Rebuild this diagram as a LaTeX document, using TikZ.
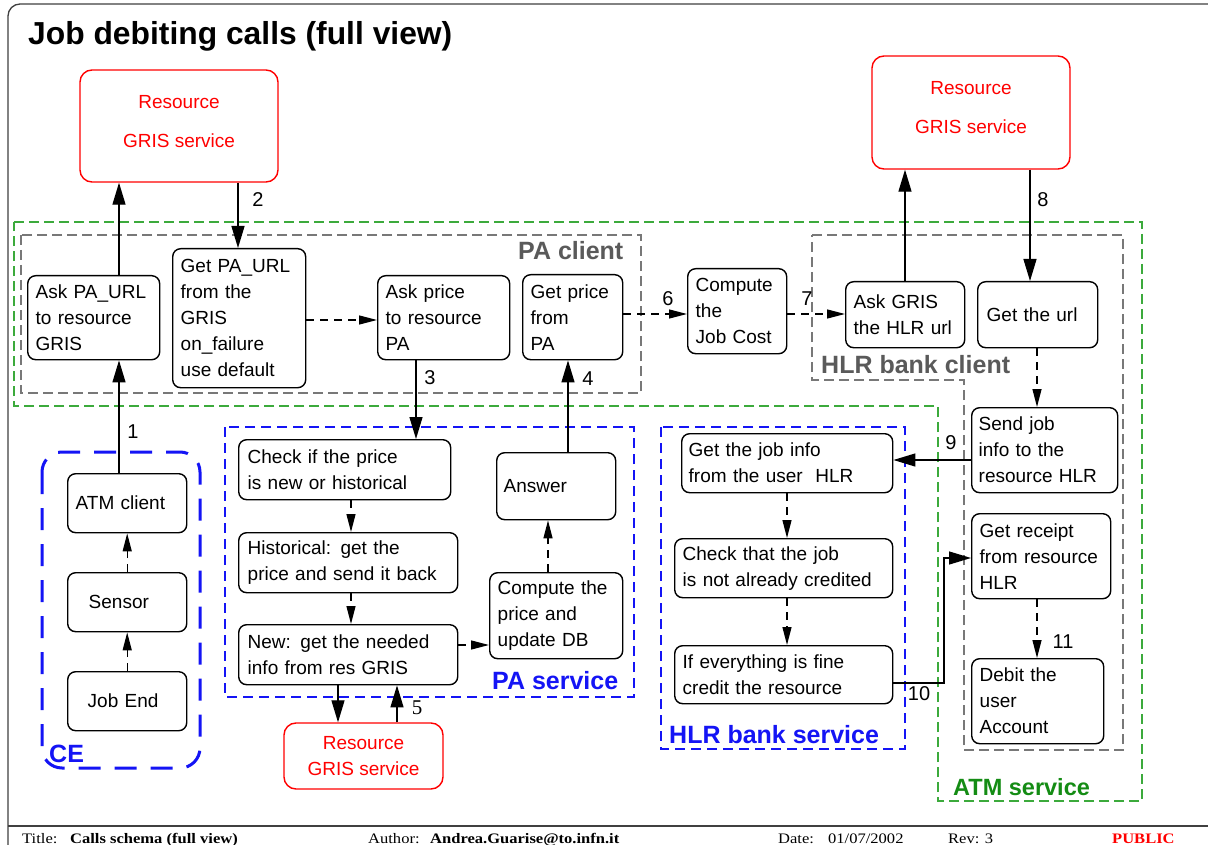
\documentclass[tikz,border=0pt]{standalone}
\usepackage{fontspec}
\setmainfont{Liberation Sans}
\newfontfamily\footfont[FakeStretch=1.14]{Liberation Serif}
\newfontfamily\numserif{Liberation Serif}
\usetikzlibrary{arrows.meta}

\definecolor{atmgreen}{RGB}{60,170,60}
\definecolor{atmlabel}{RGB}{20,140,20}
\definecolor{clientgray}{RGB}{120,120,120}
\definecolor{clientlabel}{RGB}{90,90,90}
\definecolor{svcblue}{RGB}{20,20,245}

\newcommand\bxfont{\fontsize{19}{26}\selectfont}
\newcommand\lblfont{\fontsize{25}{28}\selectfont\bfseries}
\newcommand\ftsize{\fontsize{14.5}{16}\selectfont}
\hyphenpenalty=10000
\exhyphenpenalty=10000

% rounded box given by its corners: [left inset]{name}{x1}{y1}{x2}{y2}{text}
\newcommand\bx[7][8]{%
  \pgfmathsetmacro\bxW{#5-#3}%
  \pgfmathsetmacro\bxH{#6-#4}%
  \pgfmathsetmacro\bxT{#5-#3-2*#1}%
  \node[box, anchor=north west, minimum width=\bxW pt, minimum height=\bxH pt,
        text width=\bxT pt, inner xsep=#1pt] (#2) at (#3,#4) {#7};}

\begin{document}
\begin{tikzpicture}[x=1pt,y=-1pt,
  box/.style={draw, line width=1.4pt, rounded corners=8pt, fill=white,
              font=\bxfont, align=left, inner ysep=0pt},
  redbox/.style={draw=red, line width=1.4pt, rounded corners=12pt, fill=white,
              text=red, font=\bxfont, align=center, inner sep=0pt},
  sarrow/.style={line width=1.3pt, -{Triangle[length=22pt,width=13pt]}},
  darrow/.style={line width=1.3pt, dash pattern=on 8pt off 6pt,
              -{Triangle[length=18pt,width=9pt]}},
  num/.style={font=\fontsize{20}{22}\selectfont, inner sep=0pt},
  atmzone/.style={draw=atmgreen, line width=1.3pt, dash pattern=on 10pt off 5pt},
  clientzone/.style={draw=clientgray, line width=1.3pt, dash pattern=on 10pt off 5pt},
  svczone/.style={draw=svcblue, line width=1.3pt, dash pattern=on 10pt off 6pt},
  zonelabel/.style={font=\lblfont, anchor=base west, inner sep=0pt},
  foot/.style={font=\footfont\ftsize, anchor=base west, inner sep=0pt},
  footbold/.style={foot, font=\footfont\ftsize\bfseries}
]
\useasboundingbox (0,0) rectangle (1208,845);
\fill[white] (0,0) rectangle (1208,845);

% sheet frame and footer rule
\draw[line width=1.3pt, black!75, rounded corners=12pt] (1208,4) -- (8,4) -- (8,845);
\draw[line width=1.3pt, black!75] (8,826) -- (1208,826);

\node[font=\fontsize{31.8}{34}\selectfont\bfseries, anchor=base west, inner sep=0pt]
  (title) at (28,45) {Job debiting calls (full view)};

% ---- zones ----
\draw[atmzone] (14,222) -- (1142,222) -- (1142,801) -- (938,801) -- (938,406) -- (14,406) -- cycle;
\draw[clientzone] (21,235) rectangle (641,393);
\draw[clientzone] (812,235) -- (1123,235) -- (1123,750) -- (964,750) -- (964,380) -- (812,380) -- cycle;
\draw[svczone] (225,427) rectangle (634,697);
\draw[svczone] (661,427) rectangle (905,749);
\draw[draw=svcblue, line width=3pt, dash pattern=on 22pt off 14pt, rounded corners=20pt]
  (42,452) rectangle (200,768);

\node[zonelabel, text=clientlabel] (lpacl) at (518,260) {PA client};
\node[zonelabel, text=clientlabel] (lhlrcl) at (821,373) {HLR bank client};
\node[zonelabel, text=svcblue] (lpasv) at (492,689) {PA service};
\node[zonelabel, text=svcblue] (lhlrsv) at (669,743) {HLR bank service};
\node[zonelabel, text=atmlabel, font=\fontsize{23.5}{26}\selectfont\bfseries] (latm) at (953,795) {ATM service};
\node[zonelabel, text=svcblue] (lce) at (49,762) {CE};

% ---- GRIS services ----
\node[redbox, minimum width=198pt, minimum height=112pt] (red1) at (179,126)
  {Resource\\[13pt]GRIS service\\[-16pt]\mbox{}};
\node[redbox, minimum width=198pt, minimum height=113pt] (red2) at (971,112.5)
  {Resource\\[13pt]GRIS service\\[-16pt]\mbox{}};
\node[redbox, minimum width=159pt, minimum height=66pt] (red3) at (363.5,756)
  {Resource\\GRIS service};

% ---- boxes ----
\bx{askURL}{27}{275}{159}{359}{Ask PA\_URL\\to resource\\GRIS}
\bx{getURL}{172}{248}{305}{387}{Get PA\_URL\\from the\\GRIS\\on\_failure\\use default}
\bx{askPrice}{377}{275}{509}{359}{Ask price\\to resource\\PA}
\bx{getPrice}{522}{274}{622}{359}{Get price\\from\\PA}
\bx{compute}{687}{268}{786}{353}{Compute\\the\\Job Cost}
\bx{askGRIS}{845}{281}{964}{347}{Ask GRIS\\the HLR url}
\bx[9]{getUrl}{977}{281}{1097}{347}{Get the url}
\bx[7]{sendJob}{971}{407}{1117}{492}{Send job\\info to the\\resource HLR}
\bx{getReceipt}{971}{513}{1110}{598}{Get receipt\\from resource\\HLR}
\bx{debit}{971}{658}{1103}{743}{Debit the\\user\\Account}
\bx{atm}{67}{473}{186}{532}{ATM client}
\bx[21]{sensor}{67}{572}{186}{631}{Sensor}
\bx[20]{jobEnd}{67}{671}{186}{730}{Job End}
\bx[9]{check}{238}{439}{450}{499}{Check if the price\\is new or historical}
\bx[9]{hist}{238}{532}{457}{592}{Historical: get the\\price and send it back}
\bx[9]{newInfo}{238}{624}{457}{684}{New: get the needed\\info from res GRIS}
\bx[7]{answer}{496}{452}{615}{519}{Answer}
\bx{computePrice}{489}{572}{622}{658}{Compute the\\price and\\update DB}
\bx[7]{getJob}{681}{433}{892}{492}{Get the job info\\from the user\ \ HLR}
\bx{checkJob}{674}{538}{892}{597}{Check that the job\\is not already credited}
\bx{ifFine}{674}{645}{892}{703}{If everything is fine\\credit the resource}

% ---- connector guides ----
\coordinate (cx119) at (119,0);
\coordinate (cx238) at (238,0);
\coordinate (cx338) at (338,0);
\coordinate (cx351) at (351,0);
\coordinate (cx397) at (397,0);
\coordinate (cx416) at (416,0);
\coordinate (cx548) at (548,0);
\coordinate (cx568) at (568,0);
\coordinate (cx787) at (787,0);
\coordinate (cx905) at (905,0);
\coordinate (cx1030) at (1030,0);
\coordinate (cx1037) at (1037,0);
\coordinate (cy314) at (0,314);
\coordinate (cy320) at (0,320);
\coordinate (cy460) at (0,460);
\coordinate (cy645) at (0,645);
\coordinate (c10a) at (944,683);
\coordinate (c10b) at (944,558);

% ---- connectors ----
\draw[sarrow] (atm.north -| cx119) -- (askURL.south -| cx119);
\draw[sarrow] (askURL.north -| cx119) -- (red1.south -| cx119);
\draw[sarrow] (red1.south -| cx238) -- (getURL.north -| cx238);
\draw[darrow] (getURL.east |- cy320) -- (askPrice.west |- cy320);
\draw[sarrow] (askPrice.south -| cx416) -- (check.north -| cx416);
\draw[sarrow] (answer.north -| cx568) -- (getPrice.south -| cx568);
\draw[darrow] (getPrice.east |- cy314) -- (compute.west |- cy314);
\draw[darrow] (compute.east |- cy314) -- (askGRIS.west |- cy314);
\draw[sarrow] (askGRIS.north -| cx905) -- (red2.south -| cx905);
\draw[sarrow] (red2.south -| cx1030) -- (getUrl.north -| cx1030);
\draw[darrow] (getUrl.south -| cx1037) -- (sendJob.north -| cx1037);
\draw[sarrow] (sendJob.west |- cy460) -- (getJob.east |- cy460);
\draw[darrow] (getJob.south -| cx787) -- (checkJob.north -| cx787);
\draw[darrow] (checkJob.south -| cx787) -- (ifFine.north -| cx787);
\draw[sarrow] (ifFine.east |- c10a) -- (c10a) -- (c10b) -- (getReceipt.west |- c10b);
\draw[darrow] (getReceipt.south -| cx1037) -- (debit.north -| cx1037);
\draw[darrow] (check.south -| cx351) -- (hist.north -| cx351);
\draw[darrow] (hist.south -| cx351) -- (newInfo.north -| cx351);
\draw[darrow] (newInfo.east |- cy645) -- (computePrice.west |- cy645);
\draw[darrow] (computePrice.north -| cx548) -- (answer.south -| cx548);
\draw[sarrow] (newInfo.south -| cx338) -- (red3.north -| cx338);
\draw[sarrow] (red3.north -| cx397) -- (newInfo.south -| cx397);
\draw[darrow] (jobEnd.north) -- (sensor.south);
\draw[darrow] (sensor.north) -- (atm.south);

% ---- step numbers ----
\node[num] (n1) at (133,432) {1};
\node[num] (n2) at (258,200) {2};
\node[num] (n3) at (430,378) {3};
\node[num] (n4) at (588,379) {4};
\node[num, font=\numserif\fontsize{21}{22}\selectfont] (n5) at (417,708) {5};
\node[num] (n6) at (668,299) {6};
\node[num] (n7) at (807,299) {7};
\node[num] (n8) at (1043,200) {8};
\node[num] (n9) at (951,443) {9};
\node[num] (n10) at (919,694) {10};
\node[num] (n11) at (1063,642) {11};

% ---- footer ----
\node[foot] (ft1) at (22,843) {Title:};
\node[footbold] (ft2) at (70,843) {Calls schema (full view)};
\node[foot] (ft3) at (368,843) {Author:};
\node[footbold] (ft4) at (430,843) {Andrea.Guarise@to.infn.it};
\node[foot] (ft5) at (778,843) {Date:};
\node[foot] (ft6) at (828,843) {01/07/2002};
\node[foot] (ft7) at (948,843) {Rev: 3};
\node[footbold, text=red] (ft8) at (1112,843) {PUBLIC};
\end{tikzpicture}
\end{document}
